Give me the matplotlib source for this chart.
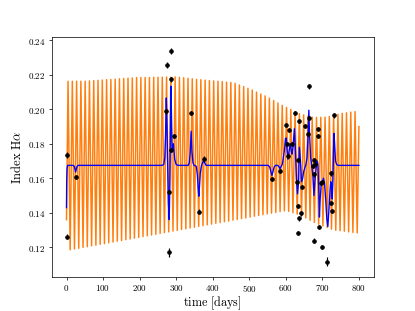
import matplotlib
matplotlib.use('Agg')
import matplotlib.pyplot as plt
from matplotlib.ticker import FuncFormatter
import numpy as np

plt.rcParams['font.family'] = 'serif'
plt.rcParams['font.serif'] = ['DejaVu Serif']
plt.rcParams['mathtext.fontset'] = 'cm'

# observed points: day, index, error
obs_day = [0, 0, 25, 273, 274, 280, 281, 286, 286, 287, 294, 341, 362, 375,
           562, 584, 601, 603, 605, 610, 617, 624, 630, 632, 633, 633, 636, 637,
           642, 643, 652, 661, 663, 663, 674, 676, 677, 678, 680, 687, 687, 692,
           697, 699, 700, 714, 723, 723, 726, 732]
obs_val = [0.1735, 0.1262, 0.1606, 0.1989, 0.2258, 0.1171, 0.1522, 0.2338, 0.2175, 0.1764,
           0.1845, 0.1977, 0.1406, 0.1712,
           0.1594, 0.1641, 0.1909, 0.1801, 0.1731, 0.1880, 0.1801, 0.1980, 0.1578, 0.1706,
           0.1441, 0.1284, 0.1369, 0.1933, 0.1396, 0.1551, 0.1902, 0.1859, 0.2134, 0.1952,
           0.1673, 0.1622, 0.1708, 0.1239, 0.1681, 0.1884, 0.1845, 0.1316, 0.1572, 0.1580,
           0.1203, 0.1117, 0.1629, 0.1458, 0.1408, 0.1966]
obs_err = [0.0015, 0.0015, 0.0012, 0.0015, 0.0018, 0.0025, 0.0012, 0.0018, 0.0015, 0.0012,
           0.0012, 0.0012, 0.0015, 0.0015,
           0.0012, 0.0012, 0.0012, 0.0012, 0.0012, 0.0012, 0.0012, 0.0012, 0.0012, 0.0012,
           0.0012, 0.0012, 0.0015, 0.0012, 0.0012, 0.0012, 0.0012, 0.0012, 0.0015, 0.0012,
           0.0012, 0.0012, 0.0012, 0.0012, 0.0012, 0.0012, 0.0012, 0.0012, 0.0012, 0.0012,
           0.0012, 0.0025, 0.0015, 0.0012, 0.0012, 0.0015]

# blue model curve (day, value)
blue_day = [0, 0.5, 1.5, 3, 5, 18, 21, 23, 25, 27, 29, 32,
            262, 266, 269, 271, 273, 275, 277, 279, 281, 283, 284.5, 286, 287.5, 289,
            291, 292.5, 294, 296, 300, 305,
            333, 336, 338.5, 341, 343.5, 346, 349,
            355, 358, 360, 362, 364, 366, 369, 372, 375, 378, 382,
            552, 556, 559, 562, 565, 568, 572, 578, 581, 584, 587, 590,
            592, 596, 599, 601, 603, 606, 609, 612, 615, 617, 620, 623.5, 626, 629,
            632, 635, 637, 640, 643, 646, 649, 652, 655, 658, 661, 663, 665, 668,
            671, 674, 677, 680, 683, 686, 688, 690, 692, 694, 697, 700, 703, 706,
            709, 712, 715, 718, 721, 723, 725, 727, 729, 731, 732, 734, 736, 739,
            743, 800]
blue_val = [0.143, 0.158, 0.1655, 0.1675, 0.1675, 0.1675, 0.167, 0.1655, 0.1636, 0.1655, 0.167, 0.1675,
            0.1675, 0.168, 0.172, 0.185, 0.2066, 0.19, 0.165, 0.145, 0.136, 0.16, 0.195, 0.2134, 0.19, 0.176,
            0.178, 0.18, 0.176, 0.171, 0.168, 0.1675,
            0.1675, 0.169, 0.175, 0.1873, 0.175, 0.169, 0.1675,
            0.167, 0.162, 0.155, 0.1496, 0.156, 0.163, 0.167, 0.169, 0.170, 0.169, 0.1675,
            0.1675, 0.1665, 0.164, 0.1617, 0.164, 0.1665, 0.1675, 0.1675, 0.1668, 0.1655, 0.1668, 0.168,
            0.170, 0.176, 0.183, 0.1834, 0.178, 0.171, 0.176, 0.180, 0.176, 0.174, 0.179, 0.1888, 0.178, 0.160,
            0.151, 0.158, 0.178, 0.170, 0.158, 0.160, 0.164, 0.166, 0.168, 0.172, 0.185, 0.1995, 0.185, 0.172,
            0.167, 0.162, 0.150, 0.160, 0.166, 0.170, 0.168, 0.155, 0.1375, 0.148, 0.157, 0.158, 0.160, 0.157,
            0.148, 0.137, 0.132, 0.142, 0.153, 0.158, 0.155, 0.148, 0.160, 0.180, 0.186, 0.178, 0.170, 0.168,
            0.1675, 0.1675]

# orange oscillation: successive maxima and minima
osc_start = (0, 0.136)
osc_end = (800, 0.190)
peak_val = [0.2163, 0.2163, 0.2163, 0.2163, 0.2163, 0.2165, 0.2167, 0.2168, 0.2170, 0.2172,
            0.2173, 0.2175, 0.2177, 0.2179, 0.2181, 0.2182, 0.2184, 0.2185, 0.2185, 0.2185,
            0.2186, 0.2186, 0.2187, 0.2187, 0.2187, 0.2188, 0.2186, 0.2183, 0.2180, 0.2177,
            0.2174, 0.2172, 0.2169, 0.2167, 0.2165, 0.2163, 0.2161, 0.2158, 0.2156, 0.2151,
            0.2141, 0.2132, 0.2122, 0.2112, 0.2100, 0.2089, 0.2078, 0.2065, 0.2051, 0.2037,
            0.2023, 0.2011, 0.1999, 0.1987, 0.1975, 0.1968, 0.1961, 0.1955, 0.1953, 0.1954,
            0.1955, 0.1959, 0.1965, 0.1971, 0.1977, 0.1980, 0.1984, 0.1987]
trough_val = [0.1185, 0.1190, 0.1194, 0.1199, 0.1203, 0.1208, 0.1212, 0.1217, 0.1221, 0.1226,
              0.1230, 0.1235, 0.1239, 0.1244, 0.1248, 0.1253, 0.1257, 0.1262, 0.1266, 0.1271,
              0.1275, 0.1280, 0.1285, 0.1289, 0.1294, 0.1298, 0.1303, 0.1307, 0.1312, 0.1316,
              0.1321, 0.1325, 0.1330, 0.1334, 0.1339, 0.1343, 0.1348, 0.1352, 0.1357, 0.1361,
              0.1366, 0.1370, 0.1375, 0.1380, 0.1384, 0.1389, 0.1393, 0.1398, 0.1402, 0.1407,
              0.1411, 0.1408, 0.1400, 0.1392, 0.1383, 0.1370, 0.1357, 0.1344, 0.1333, 0.1324,
              0.1315, 0.1305, 0.1299, 0.1296, 0.1293, 0.1289, 0.1286, 0.1283]
first_peak = 4.2
cycle = 11.72

# ordenar maximos y minimos alternados
peak_day = first_peak + cycle * np.arange(len(peak_val))
trough_day = peak_day + cycle / 2
osc_day = [osc_start[0]]
osc_val = [osc_start[1]]
for pd_, pv, td, tv in zip(peak_day, peak_val, trough_day, trough_val):
    osc_day += [pd_, td]
    osc_val += [pv, tv]
osc_day.append(osc_end[0])
osc_val.append(osc_end[1])

fig, ax = plt.subplots(figsize=(6.4, 4.8), dpi=64.85)

ax.plot(osc_day, osc_val, color='#ff7f0e', lw=1.65, zorder=1)
ax.plot(blue_day, blue_val, color='blue', lw=1.5, zorder=2)
ax.errorbar(obs_day, obs_val, yerr=obs_err, fmt='o', color='k', ms=4,
            elinewidth=1.3, capsize=0, zorder=3)

ax.set_xlabel(r'$\mathrm{time\ [days]}$', fontsize=13.5, labelpad=0)
ax.set_ylabel(r'$\mathrm{Index\ H}\alpha$', fontsize=14)

ax.xaxis.set_major_formatter(FuncFormatter(lambda v, p: r'$%d$' % v))
ax.yaxis.set_major_formatter(FuncFormatter(lambda v, p: r'$%.2f$' % v))
ax.tick_params(labelsize=10)

fig.savefig('out.png', dpi=64.85)
